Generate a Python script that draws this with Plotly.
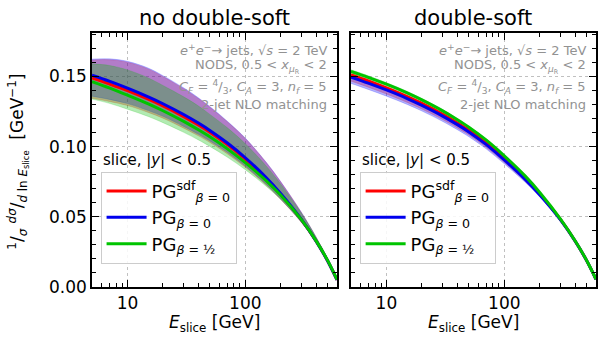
import plotly.graph_objects as go

# ---------------- data ----------------
E_slice = [5, 7, 10, 15, 20, 30, 40, 50, 70, 100, 150, 200, 300, 400, 500, 600]

# left panel: no double-soft
red_L = [0.1490, 0.1447, 0.1399, 0.1338, 0.1290, 0.1214, 0.1154, 0.1103, 0.1016, 0.0911, 0.0773, 0.0660, 0.0478, 0.0325, 0.0185, 0.0050]
blue_L = [0.1510, 0.1467, 0.1417, 0.1355, 0.1306, 0.1229, 0.1168, 0.1116, 0.1028, 0.0921, 0.0780, 0.0665, 0.0480, 0.0325, 0.0185, 0.0050]
green_L = [0.1464, 0.1419, 0.1367, 0.1305, 0.1256, 0.1180, 0.1120, 0.1070, 0.0986, 0.0886, 0.0758, 0.0653, 0.0478, 0.0327, 0.0188, 0.0052]
red_lo_L = [0.1345, 0.1322, 0.1293, 0.1244, 0.1203, 0.1132, 0.1077, 0.1030, 0.0950, 0.0853, 0.0727, 0.0623, 0.0458, 0.0315, 0.0181, 0.0049]
red_hi_L = [0.1618, 0.1620, 0.1602, 0.1554, 0.1500, 0.1413, 0.1343, 0.1281, 0.1179, 0.1058, 0.0888, 0.0748, 0.0529, 0.0353, 0.0197, 0.0052]
blue_lo_L = [0.1360, 0.1337, 0.1307, 0.1257, 0.1216, 0.1144, 0.1088, 0.1041, 0.0960, 0.0861, 0.0732, 0.0627, 0.0460, 0.0315, 0.0181, 0.0049]
blue_hi_L = [0.1624, 0.1626, 0.1608, 0.1560, 0.1506, 0.1419, 0.1348, 0.1286, 0.1183, 0.1061, 0.0890, 0.0750, 0.0530, 0.0353, 0.0197, 0.0052]
green_lo_L = [0.1339, 0.1309, 0.1267, 0.1215, 0.1171, 0.1102, 0.1048, 0.1002, 0.0926, 0.0836, 0.0718, 0.0623, 0.0461, 0.0318, 0.0184, 0.0051]
green_hi_L = [0.1590, 0.1579, 0.1547, 0.1490, 0.1436, 0.1355, 0.1290, 0.1230, 0.1136, 0.1021, 0.0863, 0.0733, 0.0523, 0.0352, 0.0198, 0.0054]

# right panel: double-soft
red_R = [0.1512, 0.1469, 0.1419, 0.1357, 0.1308, 0.1231, 0.1169, 0.1117, 0.1027, 0.0915, 0.0775, 0.0662, 0.0480, 0.0326, 0.0188, 0.0055]
blue_R = [0.1496, 0.1453, 0.1404, 0.1343, 0.1294, 0.1218, 0.1157, 0.1105, 0.1016, 0.0905, 0.0768, 0.0657, 0.0478, 0.0326, 0.0188, 0.0055]
green_R = [0.1536, 0.1494, 0.1445, 0.1383, 0.1333, 0.1255, 0.1192, 0.1139, 0.1048, 0.0935, 0.0792, 0.0674, 0.0484, 0.0328, 0.0189, 0.0055]
red_lo_R = [0.1467, 0.1424, 0.1375, 0.1315, 0.1268, 0.1193, 0.1133, 0.1083, 0.0996, 0.0888, 0.0754, 0.0646, 0.0471, 0.0321, 0.0186, 0.0054]
red_hi_R = [0.1522, 0.1479, 0.1429, 0.1367, 0.1317, 0.1240, 0.1177, 0.1125, 0.1034, 0.0921, 0.0780, 0.0666, 0.0482, 0.0327, 0.0188, 0.0055]
blue_lo_R = [0.1451, 0.1408, 0.1360, 0.1301, 0.1254, 0.1180, 0.1121, 0.1071, 0.0985, 0.0878, 0.0747, 0.0641, 0.0469, 0.0321, 0.0186, 0.0054]
blue_hi_R = [0.1506, 0.1463, 0.1414, 0.1353, 0.1303, 0.1227, 0.1165, 0.1113, 0.1023, 0.0911, 0.0773, 0.0661, 0.0480, 0.0327, 0.0188, 0.0055]
green_lo_R = [0.1524, 0.1482, 0.1434, 0.1372, 0.1323, 0.1245, 0.1183, 0.1130, 0.1040, 0.0928, 0.0786, 0.0669, 0.0481, 0.0326, 0.0188, 0.0055]
green_hi_R = [0.1548, 0.1506, 0.1456, 0.1394, 0.1343, 0.1265, 0.1201, 0.1148, 0.1056, 0.0942, 0.0798, 0.0679, 0.0487, 0.0330, 0.0190, 0.0055]

series_names = ["PG<sup>sdf</sup><sub><i>β</i> = 0</sub>",
                "PG<sub><i>β</i> = 0</sub>",
                "PG<sub><i>β</i> = ½</sub>"]
panel_titles = ["no double-soft", "double-soft"]
y_tickvals = [0.0, 0.05, 0.10, 0.15]
x_tickvals = [10, 100]
x_minor = [6, 7, 8, 9, 20, 30, 40, 50, 60, 70, 80, 90, 200, 300, 400, 500, 600]

info_lines = ["<i>e</i><sup>+</sup><i>e</i><sup>−</sup>→ jets, √<i>s</i> = 2 TeV",
              "NODS, 0.5 < <i>x</i><sub><i>μ</i><sub>R</sub></sub> < 2",
              "<i>C<sub>F</sub></i> = <sup>4</sup>/<sub>3</sub>, <i>C<sub>A</sub></i> = 3, <i>n<sub>f</sub></i> = 5",
              "2-jet NLO matching"]

line_colors = ["#ff0000", "#0000ee", "#00c400"]
band_colors = ["rgba(255,0,0,0.30)", "rgba(0,0,255,0.30)", "rgba(0,190,0,0.30)"]
FONT = "DejaVu Sans"

panels = [
    dict(xa="x", ya="y", leg="legend",
         lines=[red_L, blue_L, green_L],
         bands=[(red_lo_L, red_hi_L), (blue_lo_L, blue_hi_L), (green_lo_L, green_hi_L)]),
    dict(xa="x2", ya="y2", leg="legend2",
         lines=[red_R, blue_R, green_R],
         bands=[(red_lo_R, red_hi_R), (blue_lo_R, blue_hi_R), (green_lo_R, green_hi_R)]),
]

fig = go.Figure()
for p in panels:
    for (lo, hi), bc in zip(p["bands"], band_colors):
        fig.add_trace(go.Scatter(x=E_slice, y=lo, xaxis=p["xa"], yaxis=p["ya"], mode="lines",
                                 line=dict(color=bc, width=0.6, shape="spline"),
                                 showlegend=False, hoverinfo="skip"))
        fig.add_trace(go.Scatter(x=E_slice, y=hi, xaxis=p["xa"], yaxis=p["ya"], mode="lines",
                                 line=dict(color=bc, width=0.6, shape="spline"),
                                 fill="tonexty", fillcolor=bc,
                                 showlegend=False, hoverinfo="skip"))
    for i, (ys, lc, nm) in enumerate(zip(p["lines"], line_colors, series_names)):
        fig.add_trace(go.Scatter(x=E_slice, y=ys, xaxis=p["xa"], yaxis=p["ya"], mode="lines",
                                 line=dict(color=lc, width=3, shape="spline"),
                                 name=nm, legend=p["leg"], legendgroup=p["leg"] + str(i)))

dom1 = [0.0, 0.4862]
dom2 = [0.5138, 1.0]

def xaxis(domain, anchor):
    return dict(domain=domain, anchor=anchor, type="log",
                range=[0.69897, 2.77815],
                tickvals=x_tickvals, ticktext=[str(v) for v in x_tickvals],
                ticks="inside", ticklen=7, tickwidth=1.2, tickcolor="black",
                minor=dict(tickvals=x_minor, ticks="inside", ticklen=4, tickcolor="black", showgrid=False),
                showline=True, linecolor="black", linewidth=1.5, mirror="ticks",
                showgrid=True, gridcolor="#c0c0c0", griddash="dot", gridwidth=1,
                zeroline=False, tickfont=dict(size=17, color="black", family=FONT))

def yaxis(anchor, labels):
    return dict(domain=[0, 1], anchor=anchor, range=[0, 0.181],
                tickvals=y_tickvals, ticktext=[f"{v:.2f}" for v in y_tickvals],
                showticklabels=labels,
                ticks="inside", ticklen=7, tickwidth=1.2, tickcolor="black",
                minor=dict(dtick=0.01, ticks="inside", ticklen=4, tickcolor="black", showgrid=False),
                showline=True, linecolor="black", linewidth=1.5, mirror="ticks",
                showgrid=True, gridcolor="#c0c0c0", griddash="dot", gridwidth=1,
                zeroline=False, tickfont=dict(size=17, color="black", family=FONT))

legend_common = dict(xanchor="left", yanchor="top", bgcolor="rgba(255,255,255,0.85)",
                     bordercolor="#cccccc", borderwidth=1, traceorder="normal",
                     font=dict(size=18, color="black", family=FONT),
                     itemwidth=40, tracegroupgap=7)

annotations = []
for dom, title in zip([dom1, dom2], panel_titles):
    cx = (dom[0] + dom[1]) / 2
    annotations.append(dict(text=title, x=cx, y=1.06, xref="paper", yref="paper",
                            xanchor="center", yanchor="middle", showarrow=False,
                            font=dict(size=21, color="black", family=FONT)))
    annotations.append(dict(text="<i>E</i><sub>slice</sub> [GeV]", x=cx, y=-0.145,
                            xref="paper", yref="paper", xanchor="center", yanchor="middle",
                            showarrow=False, font=dict(size=17, color="black", family=FONT)))
    annotations.append(dict(text="slice, |<i>y</i>| < 0.5", x=dom[0] + 0.017, y=0.50,
                            xref="paper", yref="paper", xanchor="left", yanchor="middle",
                            showarrow=False, font=dict(size=15, color="black", family=FONT)))
    for line, yy in zip(info_lines, [0.934, 0.867, 0.788, 0.717]):
        annotations.append(dict(text=line, x=dom[1] - 0.016, y=yy, xref="paper", yref="paper",
                                xanchor="right", yanchor="middle", showarrow=False,
                                font=dict(size=13, color="#929292", family=FONT)))

annotations.append(dict(
    text="<sup>1</sup>/<sub><i>σ</i></sub> <sup><i>dσ</i></sup>/<sub><i>d</i> ln <i>E</i><sub>slice</sub></sub>  [GeV<sup>−1</sup>]",
    x=-0.146, y=0.495, xref="paper", yref="paper", xanchor="center", yanchor="middle",
    textangle=-90, showarrow=False, font=dict(size=17, color="black", family=FONT)))

fig.update_layout(
    width=598, height=337,
    margin=dict(l=92, r=0, t=33, b=50),
    paper_bgcolor="white", plot_bgcolor="white",
    font=dict(family=FONT, color="black"),
    xaxis=xaxis(dom1, "y"), yaxis=yaxis("x", True),
    xaxis2=xaxis(dom2, "y2"), yaxis2=yaxis("x2", False),
    legend=dict(x=0.017, y=0.454, **legend_common),
    legend2=dict(x=0.531, y=0.454, **legend_common),
    annotations=annotations,
)

fig.write_html("out.html", config={"displayModeBar": False},
               post_script="document.body.style.margin='0';document.body.style.padding='0';")
